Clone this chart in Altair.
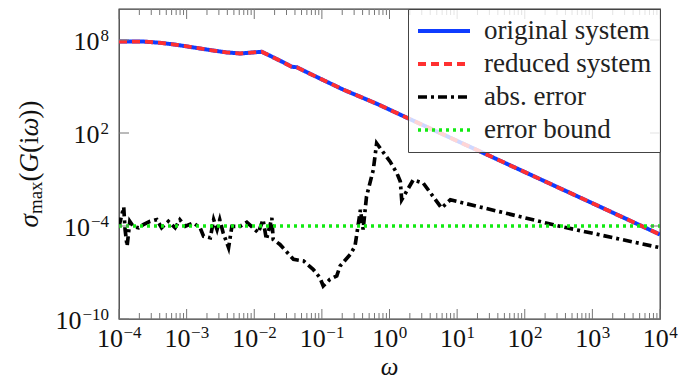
import altair as alt
import pandas as pd

# ---- data (log10 values) ----
orig_logw = [-4.00, -3.64, -3.39, -3.15, -2.90, -2.65, -2.41, -2.21, -2.01, -1.89, -1.77,
             -1.57, -1.45, -1.37, -1.17, -0.68, -0.19, 0.21, 1.00, 2.00, 3.00, 4.00]
orig_logs = [7.90, 7.90, 7.82, 7.69, 7.52, 7.35, 7.20, 7.13, 7.20, 7.24, 6.99,
             6.56, 6.28, 6.24, 5.81, 4.79, 3.89, 3.08, 1.49, -0.52, -2.53, -4.55]
red_logw = list(orig_logw)
red_logs = [7.90, 7.90, 7.82, 7.69, 7.52, 7.35, 7.20, 7.13, 7.20, 7.24, 6.99,
            6.56, 6.28, 6.24, 5.81, 4.79, 3.89, 3.08, 1.49, -0.52, -2.53, -4.55]
err_logw = [-4.00, -3.93, -3.91, -3.88, -3.84, -3.79, -3.71, -3.64, -3.54, -3.44, -3.37,
            -3.27, -3.17, -3.10, -3.02, -2.90, -2.80, -2.75, -2.65, -2.60, -2.55, -2.51,
            -2.46, -2.38, -2.33, -2.21, -2.11, -1.99, -1.94, -1.87, -1.82, -1.74, -1.72,
            -1.62, -1.42, -1.27, -1.13, -1.03, -0.98, -0.88, -0.78, -0.73, -0.58, -0.51,
            -0.43, -0.39, -0.34, -0.24, -0.19, 0.01, 0.11, 0.16, 0.18, 0.35, 0.50,
            0.77, 0.90, 2.52, 4.00]
err_logs = [-4.02, -2.78, -4.23, -5.30, -3.70, -4.02, -4.12, -3.91, -3.70, -3.59, -4.12,
            -3.70, -4.12, -3.59, -4.02, -3.80, -4.12, -4.66, -4.76, -3.59, -4.23, -3.59,
            -4.44, -5.40, -4.02, -4.02, -3.76, -4.23, -4.44, -3.59, -4.87, -3.48, -4.87,
            -5.19, -6.15, -6.26, -6.79, -7.33, -7.87, -7.44, -7.22, -6.58, -5.83, -5.30,
            -2.95, -4.23, -2.10, -0.38, 1.33, 0.15, -0.60, -1.13, -2.31, -1.03, -1.24,
            -2.84, -2.31, -4.02, -5.40]
bound_logw = [-4.0, 4.0]
bound_logs = [-4.0, -4.0]

series_names = ["original system", "reduced system", "abs. error", "error bound"]
series_colors = ["#0f3cff", "#ff3030", "#000000", "#12ea12"]
series_dash = [[1, 0], [8, 5], [9, 4, 3, 4], [3, 4]]
series_width = [4.0, 3.5, 4.0, 3.5]

x_tick_exps = [-4, -3, -2, -1, 0, 1, 2, 3, 4]
y_tick_exps = [-10, -4, 2, 8]
x_title = "ω"
y_title_parts = ["σ", "max", "(", "G", "(i", "ω", "))"]

# ---- layout constants ----
W, H = 541, 310
FONT = "Liberation Serif"
BASE_FS, EXP_FS = 26, 17

xs = alt.Scale(type="log", domain=[1e-4, 1e4], nice=False)
ys = alt.Scale(type="log", domain=[1e-10, 1e10], nice=False)

leg = alt.Legend(title=None, orient="top-right", offset=0, symbolType="stroke",
                 symbolSize=2704, symbolStrokeWidth=3.5, labelFont=FONT,
                 labelFontSize=27, labelColor="#222222", labelOffset=12, padding=8,
                 rowPadding=5, clipHeight=28, fillColor="rgba(255,255,255,0.8)",
                 strokeColor="#444444", labelLimit=400)

def series_df(name, lw, ls):
    return pd.DataFrame({"series": name, "order": list(range(len(lw))),
                         "w": [10.0 ** v for v in lw], "s": [10.0 ** v for v in ls]})

layers = []
for name, lw, ls in [(series_names[0], orig_logw, orig_logs),
                     (series_names[1], red_logw, red_logs),
                     (series_names[2], err_logw, err_logs),
                     (series_names[3], bound_logw, bound_logs)]:
    layers.append(
        alt.Chart(series_df(name, lw, ls)).mark_line(clip=True, strokeJoin="miter").encode(
            x=alt.X("w:Q", scale=xs, axis=None),
            y=alt.Y("s:Q", scale=ys, axis=None),
            color=alt.Color("series:N", scale=alt.Scale(domain=series_names, range=series_colors), legend=leg),
            strokeDash=alt.StrokeDash("series:N", scale=alt.Scale(domain=series_names, range=series_dash), legend=leg),
            strokeWidth=alt.StrokeWidth("series:N", scale=alt.Scale(domain=series_names, range=series_width), legend=None),
            order="order:Q",
        )
    )

# ---- inward tick marks ----
x_major = [10.0 ** e for e in x_tick_exps]
x_minor = [m * 10.0 ** e for e in x_tick_exps[:-1] for m in range(2, 10)]
y_major = [10.0 ** e for e in y_tick_exps]
TICK = "#777777"
for vals, ln in [(x_major, 10), (x_minor, 6)]:
    d = pd.DataFrame({"w": vals})
    layers.append(alt.Chart(d).mark_rule(color=TICK, strokeWidth=1).encode(
        x=alt.X("w:Q", scale=xs, axis=None), y=alt.value(H), y2=alt.value(H - ln)))
    layers.append(alt.Chart(d).mark_rule(color=TICK, strokeWidth=1).encode(
        x=alt.X("w:Q", scale=xs, axis=None), y=alt.value(0), y2=alt.value(ln)))
dy_ = pd.DataFrame({"s": y_major})
layers.append(alt.Chart(dy_).mark_rule(color=TICK, strokeWidth=1).encode(
    y=alt.Y("s:Q", scale=ys, axis=None), x=alt.value(0), x2=alt.value(10)))
layers.append(alt.Chart(dy_).mark_rule(color=TICK, strokeWidth=1).encode(
    y=alt.Y("s:Q", scale=ys, axis=None), x=alt.value(W), x2=alt.value(W - 10)))

# ---- tick labels: "10" with raised exponent ----
def exp_str(e):
    return str(e).replace("-", "\u2212")

def exp_width(e):
    s = exp_str(e)
    return sum((0.564 if c == "\u2212" else 0.5) * EXP_FS for c in s)

W10 = 1.0 * BASE_FS
for e in x_tick_exps:
    d = pd.DataFrame({"w": [10.0 ** e], "base": ["10"], "exp": [exp_str(e)]})
    dxb = (W10 - exp_width(e)) / 2.0
    layers.append(alt.Chart(d).mark_text(align="right", baseline="alphabetic", font=FONT,
                                         fontSize=BASE_FS, dx=dxb, color="#111111").encode(
        x=alt.X("w:Q", scale=xs, axis=None), y=alt.value(H + 28), text="base:N"))
    layers.append(alt.Chart(d).mark_text(align="left", baseline="alphabetic", font=FONT,
                                         fontSize=EXP_FS, dx=dxb + 0.5, color="#111111").encode(
        x=alt.X("w:Q", scale=xs, axis=None), y=alt.value(H + 19), text="exp:N"))

for e in y_tick_exps:
    d = pd.DataFrame({"s": [10.0 ** e], "base": ["10"], "exp": [exp_str(e)]})
    layers.append(alt.Chart(d).mark_text(align="right", baseline="alphabetic", font=FONT,
                                         fontSize=EXP_FS, dx=-10, dy=0.5, color="#111111").encode(
        y=alt.Y("s:Q", scale=ys, axis=None), x=alt.value(0), text="exp:N"))
    layers.append(alt.Chart(d).mark_text(align="right", baseline="alphabetic", font=FONT,
                                         fontSize=BASE_FS, dx=-10 - exp_width(e) - 1, dy=10,
                                         color="#111111").encode(
        y=alt.Y("s:Q", scale=ys, axis=None), x=alt.value(0), text="base:N"))

# ---- axis titles ----
layers.append(alt.Chart(pd.DataFrame({"t": [x_title]})).mark_text(
    align="center", baseline="alphabetic", font=FONT, fontSize=25, fontStyle="italic",
    color="#111111").encode(x=alt.value(W / 2), y=alt.value(366), text="t:N"))

piece_style = [("italic", 27, 0, 13.5), ("normal", 19, 4, 32.7), ("normal", 27, 0, 9.0),
               ("italic", 27, 0, 19.5), ("normal", 27, 0, 16.5), ("italic", 27, 0, 18.0),
               ("normal", 27, 0, 18.0)]
total = sum(p[3] for p in piece_style)
off = 0.0
for txt, (style, fs, ddy, wdt) in zip(y_title_parts, piece_style):
    layers.append(alt.Chart(pd.DataFrame({"t": [txt]})).mark_text(
        align="left", baseline="alphabetic", font=FONT, fontSize=fs, fontStyle=style,
        angle=270, dx=off, dy=ddy, color="#111111").encode(
        x=alt.value(-80.7), y=alt.value(H / 2 + total / 2), text="t:N"))
    off += wdt

chart = alt.layer(*layers).properties(
    width=W, height=H,
    autosize=alt.AutoSizeParams(type="none"),
    padding={"left": 111, "top": 1, "right": 26, "bottom": 60},
).configure(font=FONT).configure_view(stroke="#3a3a3a", strokeWidth=1.3)

chart.save("out.html", embed_options={"renderer": "svg", "actions": False})
